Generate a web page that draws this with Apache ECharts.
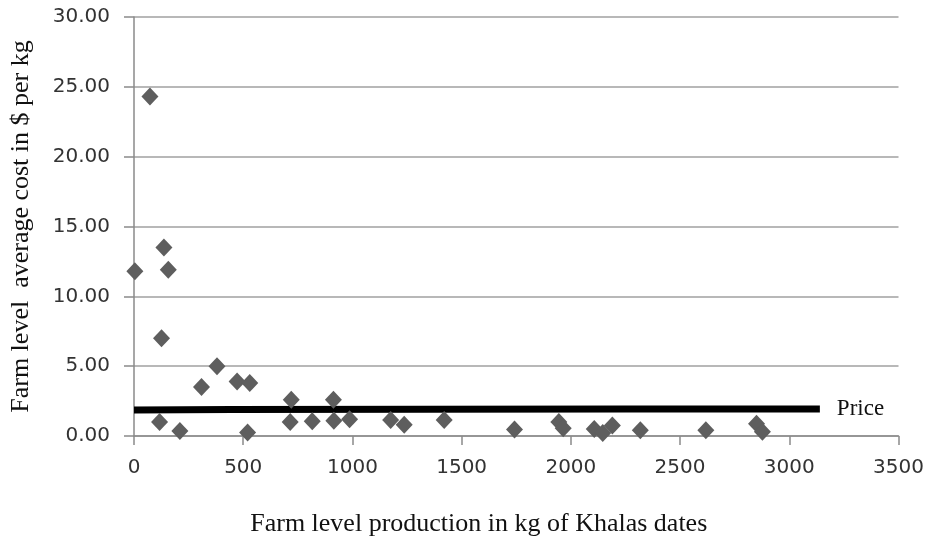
<!DOCTYPE html>
<html>
<head>
<meta charset="utf-8">
<script src="https://cdn.jsdelivr.net/npm/echarts@6/dist/echarts.min.js"></script>
<style>html,body{margin:0;padding:0;background:#fff;}#c{width:929px;height:542px;}</style>
</head>
<body>
<div id="c"></div>
<script>
// Farm-level production (kg of Khalas dates) and average cost ($ per kg)
const production = [4, 73, 137, 157, 126, 117, 210, 309, 380, 472, 530, 520, 720, 715, 816, 913, 915, 987, 1175, 1237, 1420, 1742, 1945, 1965, 2107, 2146, 2190, 2318, 2618, 2850, 2877];
const avgCost = [11.8, 24.3, 13.5, 11.9, 7.0, 1.0, 0.36, 3.5, 5.0, 3.9, 3.8, 0.25, 2.6, 1.0, 1.05, 2.6, 1.1, 1.2, 1.15, 0.8, 1.15, 0.47, 1.0, 0.55, 0.5, 0.22, 0.75, 0.41, 0.41, 0.88, 0.3];
// Price line
const priceX = [0, 450, 2250, 3140];
const priceY = [1.87, 1.9, 1.93, 1.94];
const xTicks = [0, 500, 1000, 1500, 2000, 2500, 3000, 3500];
const yTicks = [0, 5, 10, 15, 20, 25, 30];
const xTitle = 'Farm level production in kg of Khalas dates';
const yTitle = 'Farm level  average cost in $ per kg';
const priceName = 'Price';

const chart = echarts.init(document.getElementById('c'), null, {renderer: 'canvas'});
const scatterData = production.map((x, i) => [x, avgCost[i]]);
const priceData = priceX.map((x, i) => [x, priceY[i]]);

chart.setOption({
  animation: false,
  backgroundColor: '#ffffff',
  grid: {left: 132, right: 30.5, top: 17, bottom: 106},
  xAxis: {
    type: 'value', min: xTicks[0], max: xTicks[xTicks.length - 1], interval: 500,
    name: xTitle, nameLocation: 'middle', nameGap: 75,
    nameTextStyle: {fontFamily: 'Liberation Serif', fontSize: 26, color: '#111', padding: [0, 75, 0, 0]},
    axisLine: {show: true, lineStyle: {color: '#8a8a8a', width: 1.5}},
    axisTick: {show: true, length: 9, lineStyle: {color: '#8a8a8a', width: 1.5}},
    axisLabel: {margin: 22, fontFamily: 'DejaVu Sans', fontSize: 20, color: '#333',
      formatter: v => String(v)},
    splitLine: {show: false}
  },
  yAxis: {
    type: 'value', min: yTicks[0], max: yTicks[yTicks.length - 1], interval: 5,
    name: yTitle, nameLocation: 'middle', nameGap: 100, nameRotate: 90,
    nameTextStyle: {fontFamily: 'Liberation Serif', fontSize: 26, color: '#111'},
    axisLine: {show: true, lineStyle: {color: '#8a8a8a', width: 1.5}},
    axisTick: {show: true, length: 10, lineStyle: {color: '#8a8a8a', width: 1.5}},
    axisLabel: {margin: 24, fontFamily: 'DejaVu Sans', fontSize: 20, color: '#333',
      formatter: v => v.toFixed(2)},
    splitLine: {show: true, lineStyle: {color: '#a0a0a0', width: 1.5}}
  },
  series: [
    {
      type: 'line', name: priceName, data: priceData, showSymbol: false, symbol: 'none',
      lineStyle: {color: '#000', width: 7}, z: 3,
      endLabel: {show: true, formatter: priceName, distance: 17,
        fontFamily: 'Liberation Serif', fontSize: 23, color: '#111'}
    },
    {
      type: 'scatter', name: 'Farms', data: scatterData, symbol: 'diamond', symbolSize: [17, 18],
      itemStyle: {color: '#5e5e5e', opacity: 1}, z: 4
    }
  ]
});
</script>
</body>
</html>
